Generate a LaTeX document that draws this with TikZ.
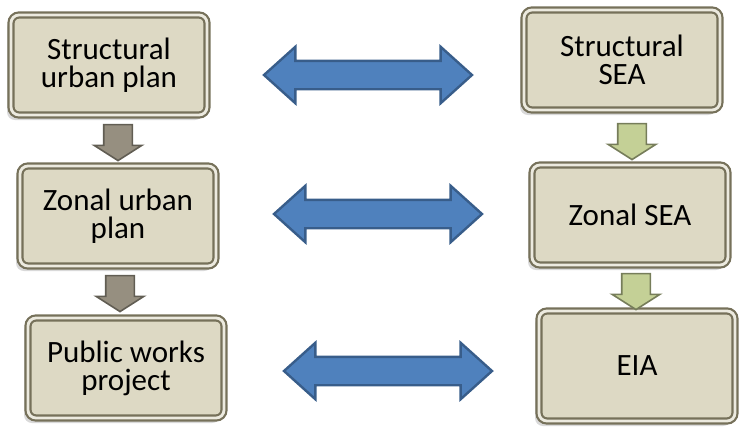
\documentclass[tikz,border=0pt]{standalone}
\usepackage{fontspec}
\setmainfont{Carlito}
\usetikzlibrary{shapes.arrows,shadows}

\definecolor{boxface}{RGB}{221,217,196}
\definecolor{boxedge}{RGB}{118,113,90}
\definecolor{planarrow}{RGB}{150,143,128}
\definecolor{seaarrow}{RGB}{196,208,150}
\definecolor{linkfill}{RGB}{79,129,189}
\definecolor{linkedge}{RGB}{56,93,138}

\tikzstyle{stage} = [rectangle, rounded corners = 4pt, minimum width = 98pt,
	minimum height = 50pt, align = center, line width = 1.1pt,
	double = boxface!55!white, double distance = 1.4pt,
	font = \fontsize{15.5}{14}\selectfont, fill = boxface, draw = boxedge,
	drop shadow = {shadow xshift = -2pt, shadow yshift = -2.5pt,
		fill = black!25, opacity = 0.6}]
\tikzstyle{link} = [double arrow, fill = linkfill, draw = linkedge,
	line width = 1.2pt, inner sep = 0pt, text height = 13pt, text depth = 0pt,
	minimum height = 104pt, double arrow head extend = 7pt,
	double arrow tip angle = 84]
\tikzstyle{flowdown} = [single arrow, rotate = -90, inner sep = 0pt,
	text height = 13.5pt, text depth = 0pt, line width = 0.8pt,
	minimum height = 18pt, single arrow head extend = 4.75pt,
	single arrow tip angle = 115]

\begin{document}
\begin{tikzpicture}[x = 0.5pt, y = -0.5pt]
\useasboundingbox (0,0) rectangle (740,430);

% planning side
\node (plan1) [stage] at (109,65) {Structural\\urban plan};
\node (plan2) [stage] at (118,216) {Zonal urban\\plan};
\node (plan3) [stage] at (126,368) {Public works\\project};

% assessment side
\node (sea1) [stage] at (622,60) {Structural\\SEA};
\node (sea2) [stage] at (630,215) {Zonal SEA};
\node (eia) [stage, minimum height = 55pt] at (637,366) {EIA};

% steps down each side
\node (pdown1) [flowdown, fill = planarrow, draw = planarrow!65!black] at (118,138) {};
\node (pdown2) [flowdown, fill = planarrow, draw = planarrow!65!black] at (120,289) {};
\node (sdown1) [flowdown, fill = seaarrow, draw = seaarrow!60!black] at (632,137) {};
\node (sdown2) [flowdown, fill = seaarrow, draw = seaarrow!60!black] at (636,287) {};

% links between the two sides
\node (link1) [link] at (368,75) {};
\node (link2) [link] at (378,214) {};
\node (link3) [link] at (388,371) {};
\end{tikzpicture}
\end{document}
